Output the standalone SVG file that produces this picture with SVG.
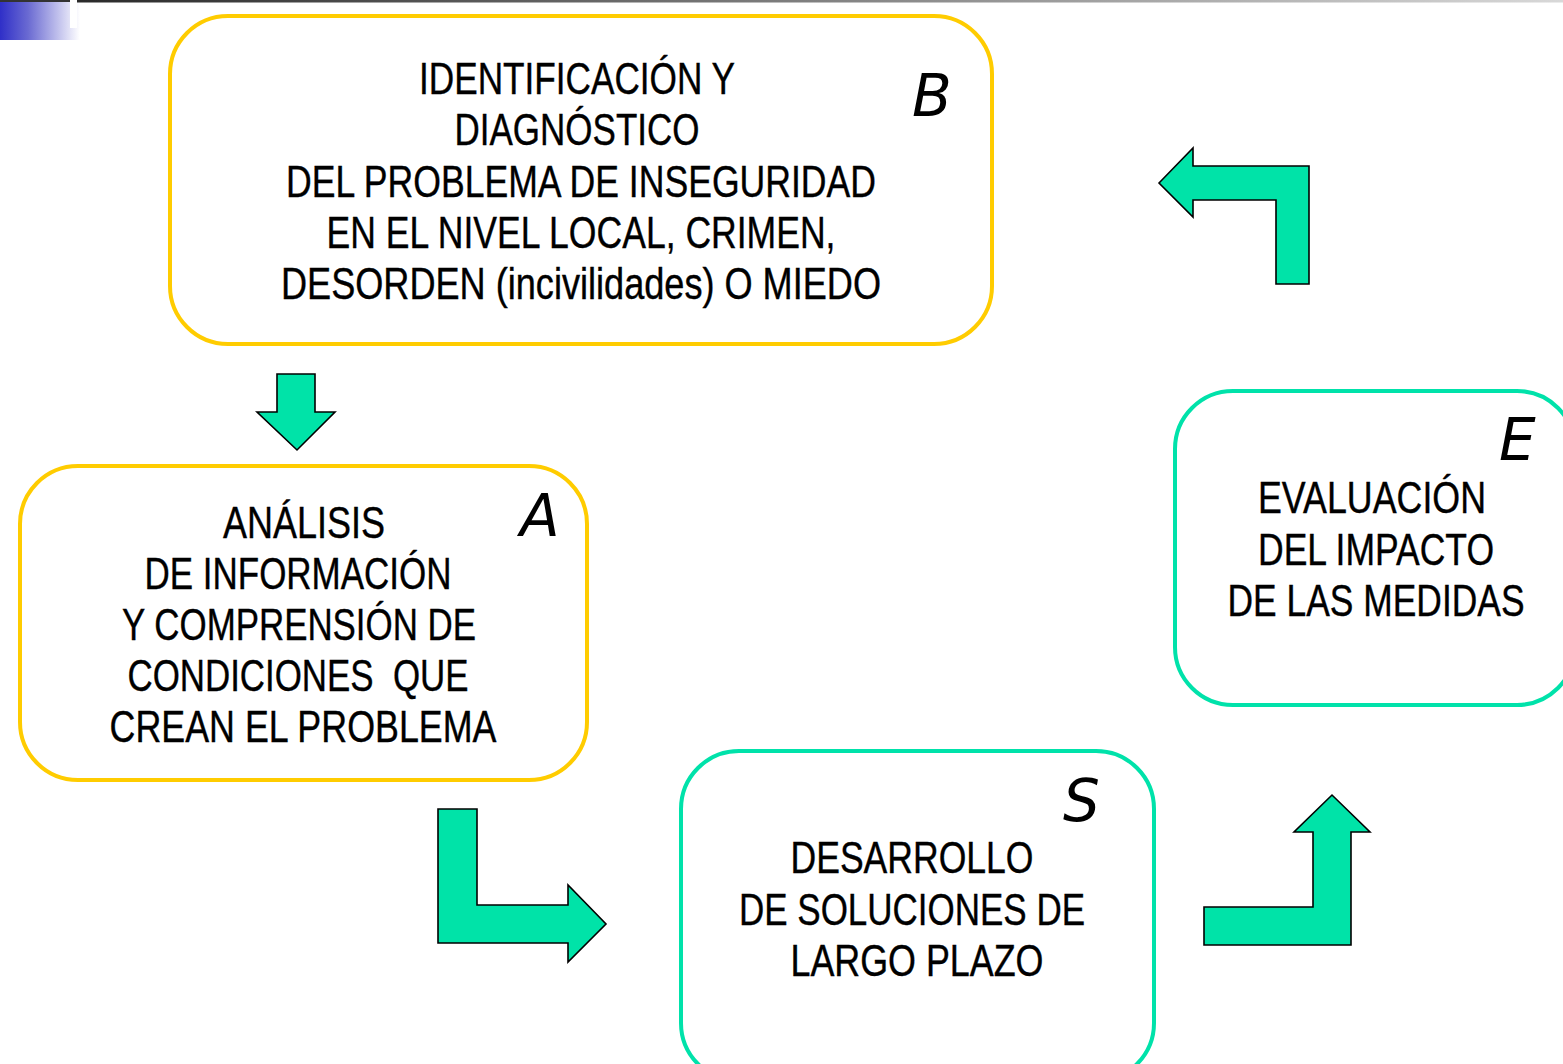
<svg xmlns="http://www.w3.org/2000/svg" width="1563" height="1064" viewBox="0 0 1563 1064">
<defs>
<linearGradient id="gBlue" x1="0" y1="0" x2="1" y2="0">
<stop offset="0" stop-color="#2f2fc8"/>
<stop offset="0.35" stop-color="#6a6ad2"/>
<stop offset="1" stop-color="#ffffff"/>
</linearGradient>
<linearGradient id="gLine" x1="0" y1="0" x2="1" y2="0">
<stop offset="0" stop-color="#2a2a2a"/>
<stop offset="1" stop-color="#d8d8d8"/>
</linearGradient>
</defs>
<style>
.yb{fill:#fff;stroke:#FFCC00;stroke-width:4}
.tb{fill:#fff;stroke:#00E2AA;stroke-width:4}
.arr{fill:#00E3A8;stroke:#000;stroke-width:1.6;stroke-linejoin:miter}
.t{font-family:"Liberation Sans Narrow","Liberation Sans",Arial,sans-serif;font-size:45px;fill:#000;stroke:#000;stroke-width:0.4;text-anchor:middle}
.l{font-family:"DejaVu Sans",Verdana,sans-serif;font-style:italic;font-size:58px;fill:#000}
</style>
<rect width="1563" height="1064" fill="#fff"/>
<g id="header">
<rect x="0" y="0" width="80" height="40" fill="url(#gBlue)"/>
<rect x="0" y="0" width="70" height="2" fill="#333"/>
<rect x="70" y="0" width="7" height="28" fill="#fff"/>
<rect x="77" y="0" width="1486" height="2.5" fill="url(#gLine)"/>
</g>
<g id="node-B">
<rect class="yb" x="170" y="16" width="822" height="328" rx="58"/>
<text class="t"><tspan x="577" y="94" textLength="316" lengthAdjust="spacingAndGlyphs">IDENTIFICACIÓN Y</tspan><tspan x="577" y="145" textLength="245" lengthAdjust="spacingAndGlyphs">DIAGNÓSTICO</tspan><tspan x="581" y="197" textLength="590" lengthAdjust="spacingAndGlyphs">DEL PROBLEMA DE INSEGURIDAD</tspan><tspan x="581" y="248" textLength="509" lengthAdjust="spacingAndGlyphs">EN EL NIVEL LOCAL, CRIMEN,</tspan><tspan x="581" y="299" textLength="600" lengthAdjust="spacingAndGlyphs">DESORDEN (incivilidades) O MIEDO</tspan></text>
<text class="l" x="912" y="116">B</text>
</g>
<g id="node-A">
<rect class="yb" x="20" y="466" width="567" height="314" rx="58"/>
<text class="t"><tspan x="304" y="538" textLength="162" lengthAdjust="spacingAndGlyphs">ANÁLISIS</tspan><tspan x="298" y="589" textLength="307" lengthAdjust="spacingAndGlyphs">DE INFORMACIÓN</tspan><tspan x="299" y="640" textLength="354" lengthAdjust="spacingAndGlyphs">Y COMPRENSIÓN DE</tspan><tspan x="298" y="691" textLength="341" lengthAdjust="spacingAndGlyphs">CONDICIONES&#160; QUE</tspan><tspan x="303" y="742" textLength="387" lengthAdjust="spacingAndGlyphs">CREAN EL PROBLEMA</tspan></text>
<text class="l" x="520" y="536">A</text>
</g>
<g id="node-E">
<rect class="tb" x="1175" y="391" width="400" height="314" rx="58"/>
<text class="t"><tspan x="1372" y="513" textLength="228" lengthAdjust="spacingAndGlyphs">EVALUACIÓN</tspan><tspan x="1376" y="565" textLength="236" lengthAdjust="spacingAndGlyphs">DEL IMPACTO</tspan><tspan x="1376" y="616" textLength="297" lengthAdjust="spacingAndGlyphs">DE LAS MEDIDAS</tspan></text>
<text class="l" x="1499" y="460">E</text>
</g>
<g id="node-S">
<rect class="tb" x="681" y="751" width="473" height="330" rx="58"/>
<text class="t"><tspan x="912" y="873" textLength="243" lengthAdjust="spacingAndGlyphs">DESARROLLO</tspan><tspan x="912" y="925" textLength="346" lengthAdjust="spacingAndGlyphs">DE SOLUCIONES DE</tspan><tspan x="917" y="976" textLength="253" lengthAdjust="spacingAndGlyphs">LARGO PLAZO</tspan></text>
<text class="l" x="1063" y="821">S</text>
</g>
<g id="connectors">
<polygon class="arr" points="277,374 315,374 315,412 335,412 297,450 257,412 277,412"/>
<polygon class="arr" points="438,809 477,809 477,905 568,905 568,885 606,924 568,962 568,943 438,943"/>
<polygon class="arr" points="1204,907 1313,907 1313,832 1294,832 1332,795 1370,832 1351,832 1351,945 1204,945"/>
<polygon class="arr" points="1159,183 1193,148 1193,166 1309,166 1309,284 1276,284 1276,200 1193,200 1193,217"/>
</g>
</svg>
